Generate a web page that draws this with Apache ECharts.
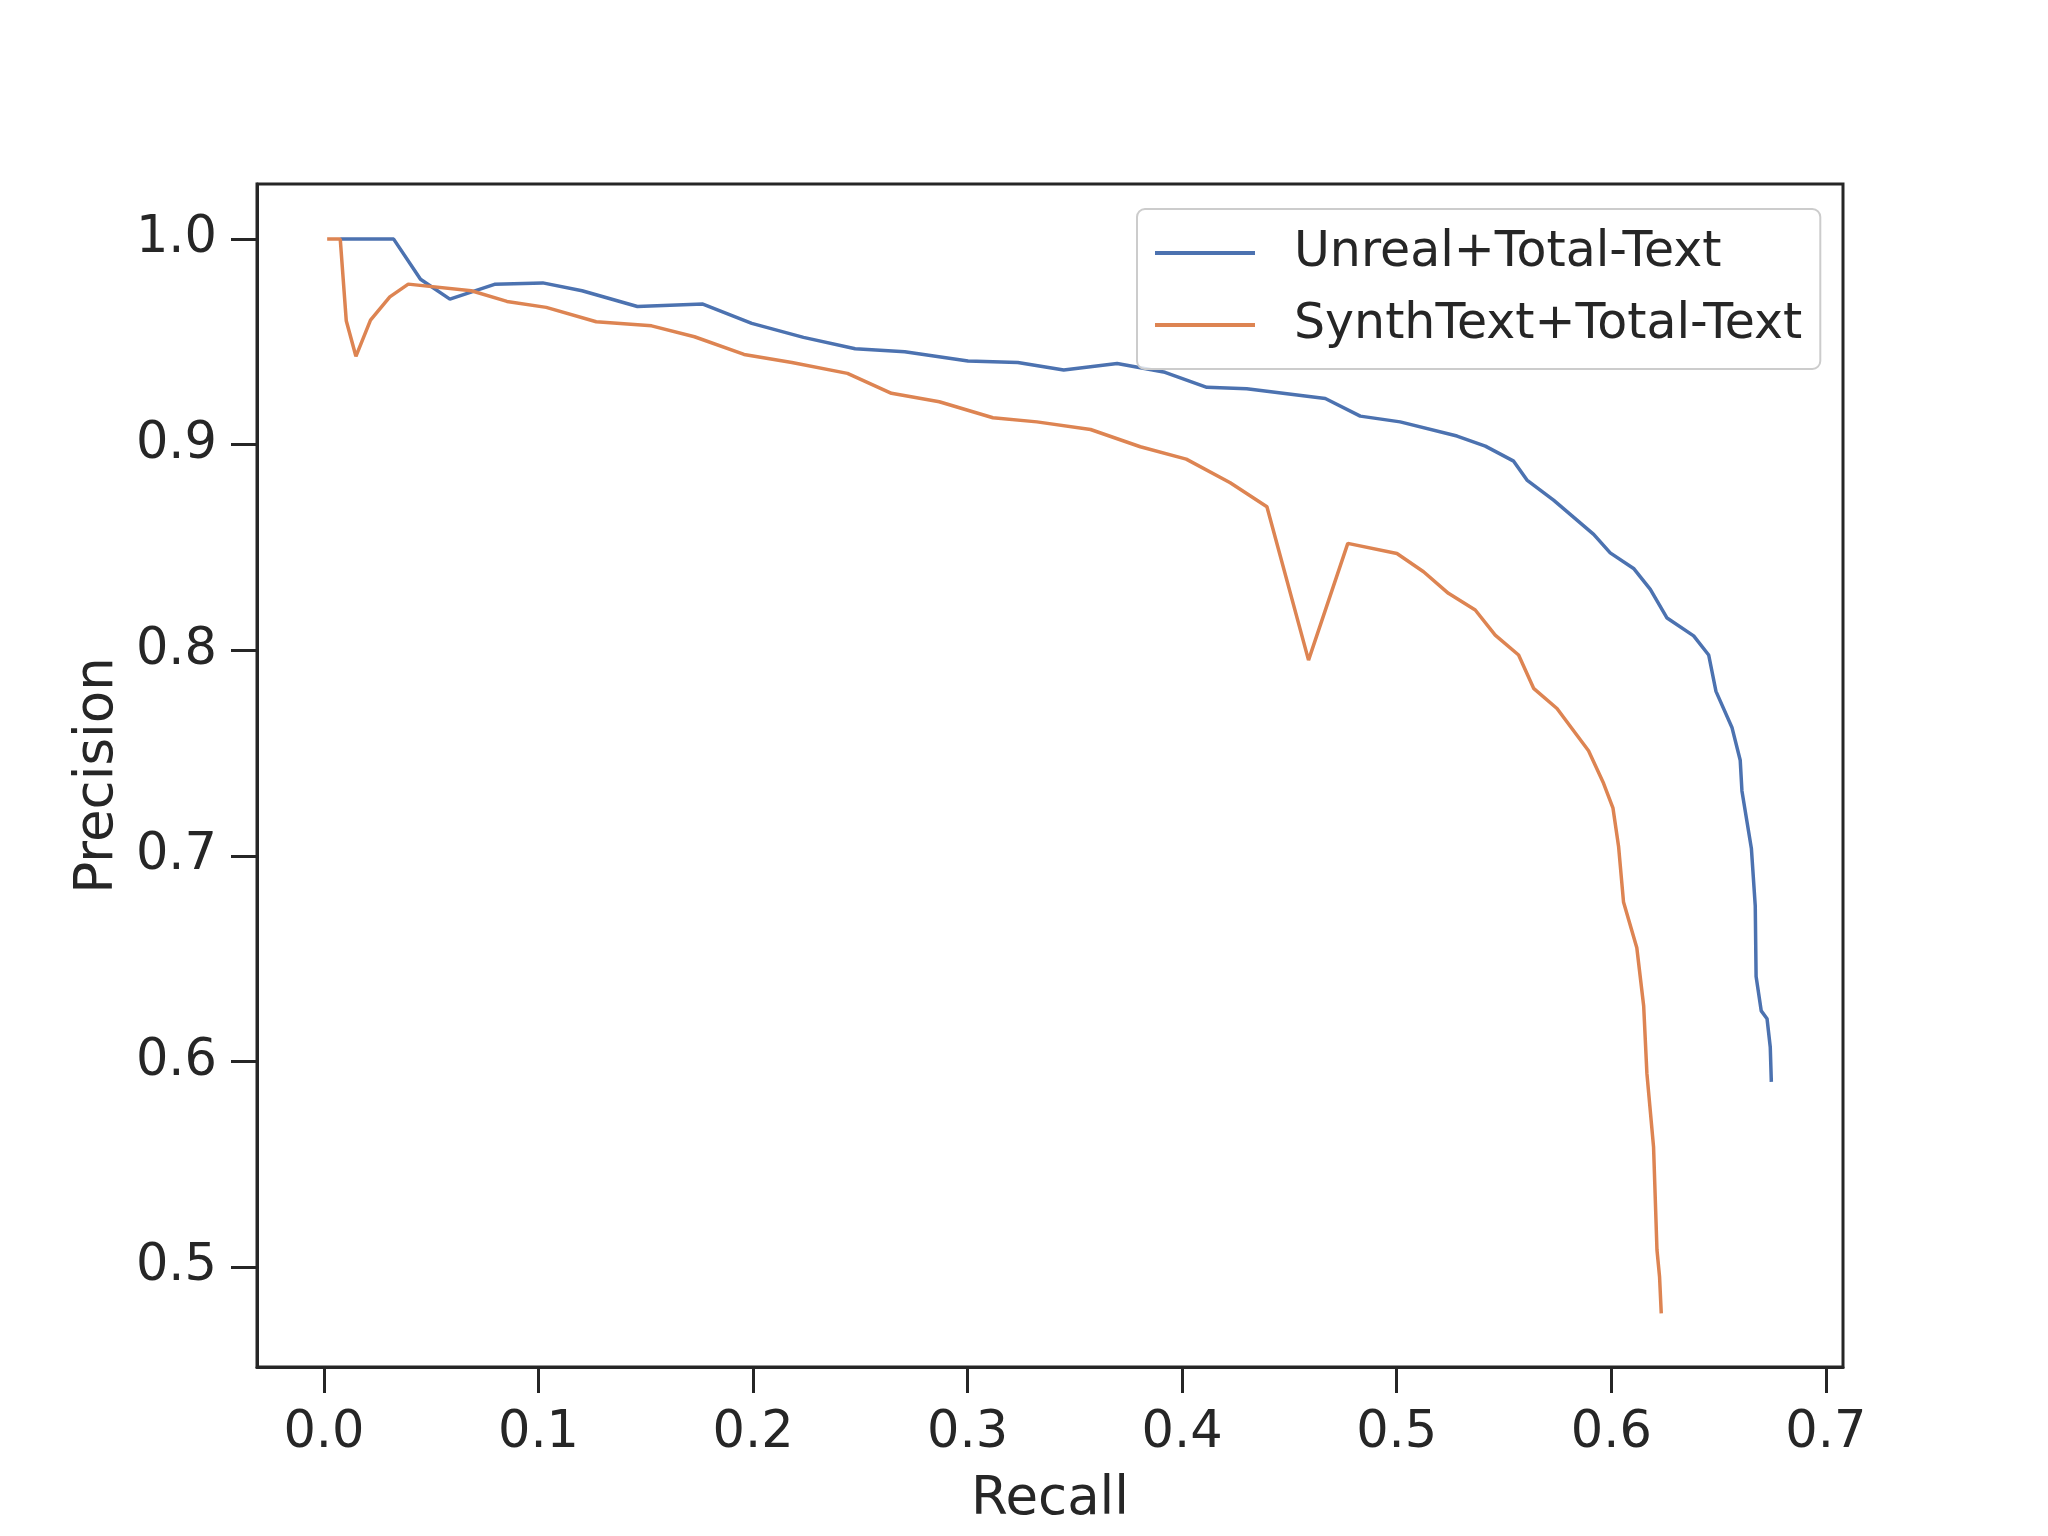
<!DOCTYPE html>
<html>
<head>
<meta charset="utf-8">
<script src="https://cdn.jsdelivr.net/npm/echarts@6/dist/echarts.min.js"></script>
<style>
html,body{margin:0;padding:0;background:#fff;}
#c{width:2048px;height:1536px;}
</style>
</head>
<body>
<div id="c"></div>
<script>
// Series names
const seriesNames = ["Unreal+Total-Text", "SynthText+Total-Text"];

// Unreal+Total-Text: [recall, precision]
const unrealRecall = [0.0076,0.0325,0.045,0.0587,0.0795,0.102,0.1203,0.1461,0.1766,0.1994,0.2235,0.2476,0.2707,0.3002,0.3234,0.3448,0.3697,0.392,0.4115,0.4301,0.4667,0.483,0.5016,0.5281,0.5413,0.5545,0.5607,0.5731,0.5918,0.5995,0.6104,0.6182,0.626,0.6384,0.6454,0.6488,0.6563,0.6601,0.6609,0.6653,0.6671,0.6675,0.6699,0.6726,0.6741,0.6746];
const unrealPrecision = [1.0,1.0,0.9805,0.9708,0.978,0.9787,0.9749,0.9672,0.9684,0.959,0.9522,0.9467,0.9452,0.9407,0.940,0.9363,0.9395,0.9352,0.9279,0.9272,0.9225,0.9139,0.9111,0.9042,0.8993,0.892,0.8828,0.873,0.8564,0.8474,0.8398,0.8296,0.8157,0.807,0.7977,0.78,0.7623,0.7465,0.7316,0.7036,0.6757,0.6413,0.6246,0.6208,0.6069,0.5901];

// SynthText+Total-Text: [recall, precision]
const synthRecall = [0.0015,0.0076,0.0104,0.0149,0.0217,0.0307,0.0393,0.0687,0.0853,0.1036,0.1269,0.1527,0.1727,0.1958,0.2181,0.244,0.2645,0.2868,0.3118,0.3323,0.3573,0.3805,0.4019,0.4224,0.4395,0.4589,0.4772,0.5001,0.5125,0.5241,0.5366,0.5459,0.5568,0.5638,0.5747,0.5894,0.5964,0.6008,0.6034,0.6057,0.6119,0.6151,0.6166,0.6197,0.6213,0.6225,0.6233];
const synthPrecision = [1.0,1.0,0.9603,0.943,0.9606,0.9719,0.9781,0.9749,0.9697,0.9668,0.9598,0.9578,0.9525,0.9439,0.940,0.9347,0.925,0.9209,0.9131,0.9111,0.9074,0.899,0.893,0.8815,0.8698,0.7952,0.852,0.8471,0.8382,0.8277,0.8196,0.8074,0.7977,0.7815,0.7717,0.7511,0.7353,0.7232,0.7046,0.6776,0.6553,0.627,0.5942,0.5585,0.5083,0.4953,0.4775];

// Tick values
const xTicks = [0.0,0.1,0.2,0.3,0.4,0.5,0.6,0.7];
const yTicks = [0.5,0.6,0.7,0.8,0.9,1.0];

const zip = (a, b) => a.map((v, i) => [v, b[i]]);
const ink = '#262626';
const font = 'DejaVu Sans';

const chart = echarts.init(document.getElementById('c'), null, {renderer: 'canvas'});
chart.setOption({
  backgroundColor: '#ffffff',
  animation: false,
  grid: {
    left: 257, top: 184, width: 1586, height: 1183,
    show: true, borderColor: ink, borderWidth: 3, backgroundColor: 'transparent'
  },
  xAxis: {
    type: 'value', min: -0.0312, max: 0.708,
    name: 'Recall', nameLocation: 'middle', nameGap: 107,
    nameTextStyle: {fontFamily: font, fontSize: 53, color: ink},
    axisLine: {show: true, onZero: false, lineStyle: {color: ink, width: 3}},
    axisTick: {show: true, inside: false, length: 26, lineStyle: {color: ink, width: 3}, customValues: xTicks},
    axisLabel: {show: true, margin: 41, fontFamily: font, fontSize: 51, color: ink, customValues: xTicks,
      formatter: v => v.toFixed(1)},
    splitLine: {show: false}
  },
  yAxis: {
    type: 'value', min: 0.4514, max: 1.0268,
    name: 'Precision', nameLocation: 'middle', nameGap: 130,
    nameTextStyle: {fontFamily: font, fontSize: 53, color: ink},
    axisLine: {show: true, onZero: false, lineStyle: {color: ink, width: 3}},
    axisTick: {show: true, inside: false, length: 26, lineStyle: {color: ink, width: 3}, customValues: yTicks},
    axisLabel: {show: true, margin: 40, fontFamily: font, fontSize: 51, color: ink, customValues: yTicks,
      formatter: v => v.toFixed(1)},
    splitLine: {show: false}
  },
  legend: {
    orient: 'vertical', left: 1137, top: 209,
    padding: [15, 18, 15, 18],
    backgroundColor: 'rgba(255,255,255,0.8)',
    borderColor: '#cccccc', borderWidth: 2, borderRadius: 8,
    icon: 'rect',
    itemWidth: 100, itemHeight: 4, itemGap: 14,
    textStyle: {fontFamily: font, fontSize: 49, color: ink, lineHeight: 58, padding: [0, 0, 0, 34]},
    data: seriesNames
  },
  series: [
    {
      name: seriesNames[0], type: 'line', data: zip(unrealRecall, unrealPrecision),
      symbol: 'none', showSymbol: false, smooth: false,
      lineStyle: {color: '#4c72b0', width: 3.5}, itemStyle: {color: '#4c72b0'}
    },
    {
      name: seriesNames[1], type: 'line', data: zip(synthRecall, synthPrecision),
      symbol: 'none', showSymbol: false, smooth: false,
      lineStyle: {color: '#dd8452', width: 3.5}, itemStyle: {color: '#dd8452'}
    }
  ]
});
</script>
</body>
</html>
